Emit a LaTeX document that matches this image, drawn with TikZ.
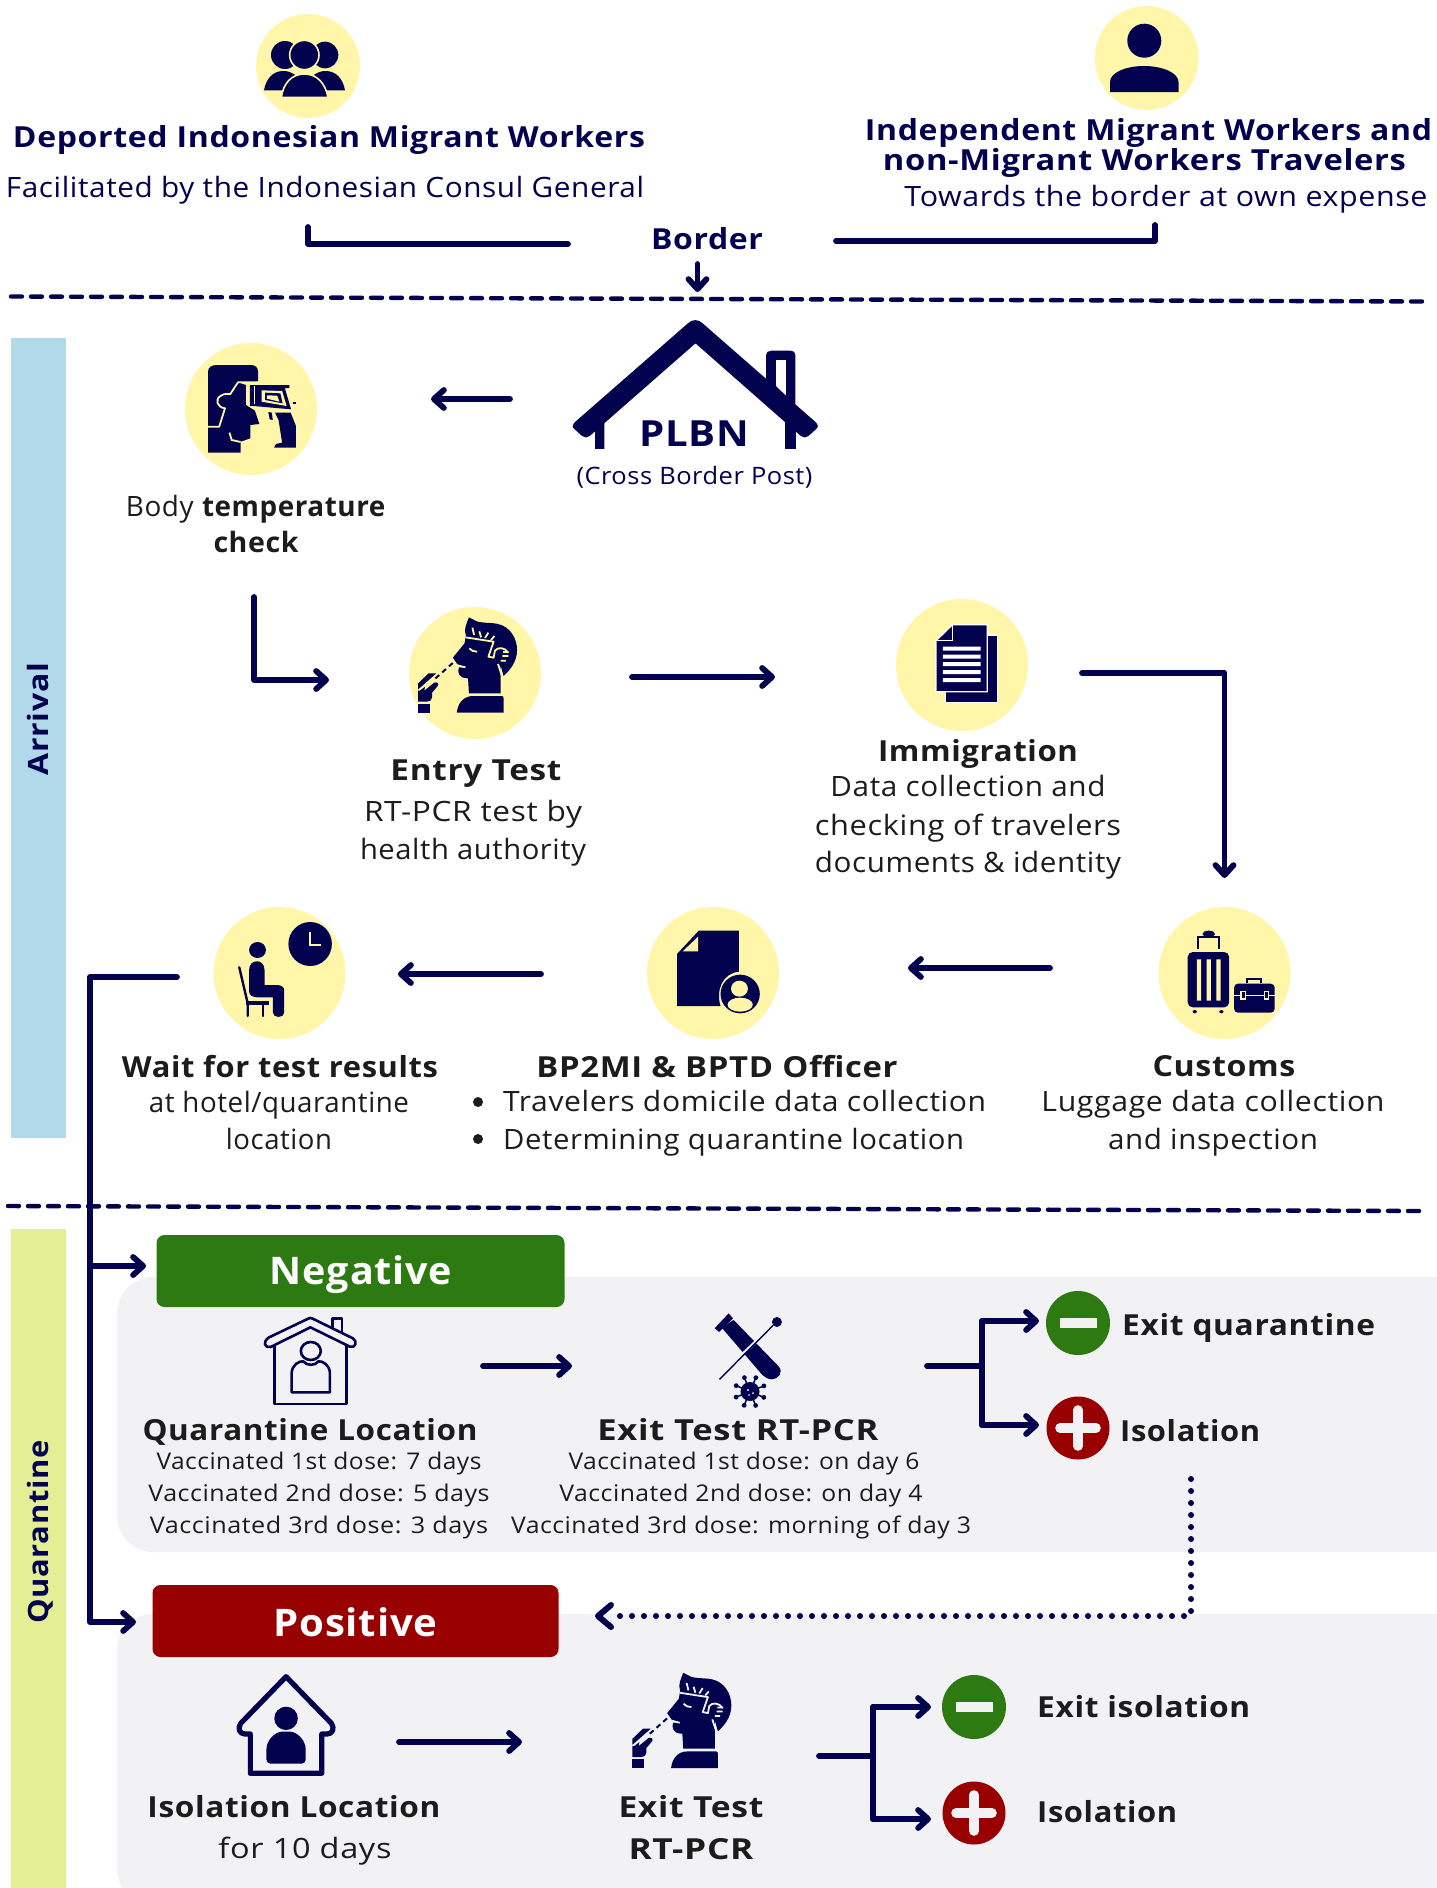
\documentclass[tikz,border=0pt]{standalone}
\usepackage{fontspec}
\setmainfont[LetterSpace=2]{Open Sans}
\usetikzlibrary{arrows.meta}
\definecolor{navy}{HTML}{02024F}
\definecolor{yel}{HTML}{FFF6AA}
\definecolor{barblue}{HTML}{B2D9EA}
\definecolor{bargreen}{HTML}{E4EE94}
\definecolor{panel}{HTML}{F2F2F5}
\definecolor{negc}{HTML}{2E7A12}
\definecolor{posc}{HTML}{990000}
\definecolor{ink}{HTML}{1C1C1C}
\newcommand\ft[2]{\resizebox{#1pt}{\height}{#2}}
\newcommand\fz[1]{\fontsize{#1}{#1}\selectfont}
\tikzset{
  ycirc/.style={circle,fill=yel,minimum size=132pt,inner sep=0},
  ysmall/.style={circle,fill=yel,minimum size=104pt,inner sep=0},
  T/.style={inner sep=0,text height=20pt,text depth=0pt,font=\fz{28},text=ink},
  TB/.style={inner sep=0,text height=21pt,text depth=0pt,font=\fz{29}\bfseries,text=ink},
  TS/.style={inner sep=0,text height=17pt,text depth=0pt,font=\fz{23},text=ink},
  flow/.style={draw=navy,line width=5.8pt,line cap=round,line join=round,-{Straight Barb[round,length=10pt,width=18pt,line width=5.8pt]}},
  plain/.style={draw=navy,line width=5.8pt,line cap=round,line join=round},
  divider/.style={draw=navy,line width=4.4pt,line cap=round,dash pattern=on 11pt off 9pt},
  badge/.style={circle,minimum size=64pt,inner sep=0},
  barp/.style={panel,line width=9.6pt,line cap=round},
  barm/.style={panel,line width=9.6pt},
}
\newcommand\manicon[1]{%
  \fill[navy] (205,82) -- (225,95) .. controls (245,100) and (262,98) .. (272,102) .. controls (300,110) and (316,145) .. (316,180) .. controls (316,215) and (300,240) .. (285,258) -- (278,225) -- (278,310) -- (205,310) -- (203,265) .. controls (180,265) and (178,245) .. (182,232) -- (197,232) -- (178,222) -- (168,203) -- (195,160) -- (198,135) .. controls (192,120) and (200,100) .. (205,82) -- cycle;
  \draw[#1,line width=1.8pt,line join=round] (197,142) -- (262,155) -- (250,200) -- (262,203) -- (265,182) .. controls (272,170) and (288,172) .. (296,188);
  \draw[#1,line width=1.8pt] (213,113) -- (217,135) (229,124) -- (233,142) (250,128) -- (242,144) (264,138) -- (256,150) (284,186) -- (296,186) (282,198) -- (296,198) (278,212) -- (290,212) (272,222) -- (283,265) (206,175) .. controls (210,182) and (216,185) .. (224,185) (181,227) -- (197,232);
  \fill[navy] (177,368) .. controls (180,335) and (195,318) .. (215,318) -- (280,318) .. controls (284,318) and (285,320) .. (285,325) -- (285,368) -- cycle;
  \fill[navy] (88,280) -- (112,250) -- (130,250) -- (88,298) -- cycle;
  \fill[navy] (88,302) -- (92,302) -- (104,290) -- (102,302) -- (125,278) .. controls (132,274) and (137,282) .. (133,288) -- (120,308) -- (120,322) .. controls (120,330) and (115,335) .. (108,335) -- (88,335) -- cycle;
  \fill[navy] (88,342) rectangle (115,368);
  \draw[navy,line width=2pt,dash pattern=on 5pt off 4pt] (128,265) -- (172,214);
}
\begin{document}
\begin{tikzpicture}[x=1pt,y=-1pt]
\clip (0,0) rectangle (1437,1888);
\useasboundingbox (0,0) rectangle (1437,1888);
% panels and sidebars
\fill[white] (0,0) rectangle (1437,1888);
\fill[panel,rounded corners=36pt] (1437,1277) -- (117,1277) -- (117,1552) -- (1437,1552) [sharp corners] -- cycle;
\fill[panel] (1400,1277) rectangle (1437,1552);
\fill[panel,rounded corners=36pt] (1437,1614) -- (117,1614) -- (117,1905) -- (1437,1905) -- cycle;
\fill[panel] (1400,1614) rectangle (1437,1888);
\node[fill=barblue,minimum width=55pt,minimum height=800pt,inner sep=0] (arrivalbar) at (38.5,738) {};
\node[fill=bargreen,minimum width=55pt,minimum height=659pt,inner sep=0] (quarbar) at (38.5,1558.5) {};
\node[T,rotate=90,font=\fz{28}\bfseries,text=navy] (arrival) at (38,719) {\ft{112}{Arrival}};
\node[T,rotate=90,font=\fz{28}\bfseries,text=navy] (quarantine) at (38,1532) {\ft{183}{Quarantine}};

% yellow circles
\node[ysmall] (deported) at (308,66) {};
\node[ysmall] (independent) at (1146.7,58) {};
\node[ycirc] (body) at (251,409) {};
\node[ycirc] (entry) at (475,673) {};
\node[ycirc] (immig) at (962,665) {};
\node[ycirc] (customs) at (1224.5,973) {};
\node[ycirc] (officer) at (713,973) {};
\node[ycirc] (wait) at (279.5,973) {};

% group icon
\begin{scope}[shift={(240,0)},xscale=.3333,yscale=.3333]
  \fill[navy] (135,165) circle (42pt) (255,165) circle (40pt);
  \fill[navy] (72,271) .. controls (78,235) and (100,213) .. (130,213) .. controls (145,213) and (155,218) .. (165,224) -- (128,271) -- cycle;
  \fill[navy] (315,271) .. controls (309,235) and (287,213) .. (257,213) .. controls (242,213) and (232,218) .. (222,224) -- (259,271) -- cycle;
  \filldraw[navy,draw=yel,line width=1.6pt] (193,165) circle (44pt);
  \filldraw[navy,draw=yel,line width=1.6pt] (124,292) .. controls (130,250) and (155,222) .. (193,222) .. controls (231,222) and (256,250) .. (264,292) -- cycle;
\end{scope}
% single person icon
\fill[navy] (1144.3,40.7) circle (17pt);
\fill[navy] (1110,92) -- (1110,82) .. controls (1110,73) and (1125,66) .. (1144,66) .. controls (1163,66) and (1178.5,73) .. (1178.5,82) -- (1178.5,92) -- cycle;

% body temperature icon
\begin{scope}[shift={(150,320)},xscale=.4464,yscale=.3333]
  \fill[navy] (130,155) .. controls (130,142) and (138,135) .. (150,135) -- (225,135) .. controls (236,135) and (242,142) .. (242,155) -- (242,185) -- (197,187) -- (215,195) -- (215,255) -- (235,272) -- (245,312) -- (225,315) -- (225,355) -- (203,365) -- (203,398) -- (130,398) -- cycle;
  \draw[yel,line width=1.8pt,line join=round] (130,320) -- (155,320) -- (168,265) .. controls (150,262) and (145,238) .. (158,228) .. controls (165,220) and (175,222) .. (180,222) -- (197,187) -- (242,187);
  \draw[yel,line width=1.8pt] (178,338) -- (183,360) -- (203,366);
  \fill[navy] (224,195) -- (312,195) -- (312,204) -- (302,204) -- (316,268) -- (232,258) -- (224,258) -- cycle;
  \draw[yel,line width=1.8pt] (234,198) -- (234,252);
  \fill[yel] (250,211) -- (296,213) -- (306,258) -- (250,245) -- cycle;
  \fill[navy] (258,218) -- (292,220) -- (297,250) -- (258,240) -- cycle;
  \fill[yel] (262,226) -- (285,227) -- (290,245) -- (262,236) -- cycle;
  \fill[navy] (320,245) rectangle (326,251);
  \fill[navy] (265,276) -- (273,278) -- (275,300) -- (268,298) -- cycle;
  \fill[navy] (280,278) -- (315,278) -- (327,318) -- (327,383) -- (278,383) -- (282,372) -- (296,368) -- (288,300) -- cycle;
\end{scope}

% man with swab, entry test
\begin{scope}[shift={(380,590)},xscale=.4337,yscale=.3333]
  \manicon{yel}
\end{scope}
% document icon
\begin{scope}[shift={(380,590)},xscale=.4337,yscale=.3333]
  \filldraw[navy,draw=white,line width=1.3pt] (1304,135) rectangle (1423,337);
  \filldraw[navy,draw=white,line width=1.3pt] (1320,104) -- (1400,104) -- (1400,305) -- (1282,305) -- (1282,152) -- cycle;
  \draw[white,line width=1.3pt] (1282,152) -- (1320,152) -- (1320,104);
  \fill[white] (1298,170) rectangle (1385,182) (1298,194) rectangle (1385,206) (1298,216) rectangle (1385,228) (1298,240) rectangle (1385,252) (1298,264) rectangle (1385,276);
\end{scope}

% lower row icons
\begin{scope}[shift={(200,890)},xscale=.7015,yscale=.3333]
  % wait
  \fill[navy] (157,162) ellipse [x radius=31pt,y radius=66pt];
  \draw[yel,line width=2pt] (157,125) -- (157,165) -- (172,165);
  \fill[navy] (82,180) ellipse [x radius=12pt,y radius=24pt];
  \fill[navy] (70,240) .. controls (70,205) and (92,205) .. (92,240) -- (92,285) -- (110,285) .. controls (116,285) and (120,292) .. (120,300) -- (120,368) .. controls (120,385) and (104,385) .. (104,368) -- (104,322) -- (82,322) .. controls (75,322) and (70,315) .. (70,305) -- cycle;
  \draw[navy,line width=2.4pt,line cap=round] (56,232) -- (68,340) -- (68,378);
  \draw[navy,line width=2.4pt,line cap=round] (90,342) -- (90,378);
  \fill[navy] (66,333) rectangle (98,345);
  % officer
  \fill[navy] (680,192) -- (711,122) -- (768,122) -- (768,245) .. controls (745,250) and (735,300) .. (742,348) -- (680,348) -- cycle;
  \fill[yel] (688,184) -- (710,140) -- (710,184) -- cycle;
  \fill[navy] (770,312) ellipse [x radius=28pt,y radius=58pt];
  \fill[yel] (769,296) ellipse [x radius=12pt,y radius=24pt];
  \fill[yel] (770,344) ellipse [x radius=18pt,y radius=21pt];
  % suitcase
  \fill[navy,rounded corners=5pt] (1408,186) rectangle (1467,352);
  \fill[yel] (1421,208) rectangle (1427,332) (1435,208) rectangle (1441,332) (1449,208) rectangle (1455,332);
  \fill[navy] (1438,132) ellipse [x radius=9pt,y radius=10pt];
  \draw[navy,line width=2pt] (1423,178) -- (1423,140) -- (1453,140) -- (1453,178);
  \fill[navy] (1418,365) ellipse [x radius=3pt,y radius=5pt] (1456,365) ellipse [x radius=3pt,y radius=5pt];
  \fill[navy,rounded corners=4pt] (1474,281) rectangle (1532,368);
  \draw[navy,line width=2pt] (1492,280) -- (1492,268) -- (1512,268) -- (1512,280);
  \draw[yel,line width=1.4pt] (1474,316) -- (1532,316);
  \filldraw[navy,draw=yel,line width=1.2pt] (1484,304) rectangle (1490,327) (1517,304) rectangle (1523,327);
\end{scope}

% PLBN house
\begin{scope}[shift={(150,320)},xscale=.4464,yscale=.3333]
  \fill[navy] (1380,210) -- (1380,105) .. controls (1380,97) and (1385,92) .. (1392,92) -- (1433,92) .. controls (1441,92) and (1446,97) .. (1446,105) -- (1446,260) -- cycle;
  \fill[white] (1402,120) rectangle (1425,228);
  \fill[navy] (1402,198) -- (1425,228) -- (1402,228) -- cycle;
  \fill[navy] (1205,10) .. controls (1215,-3) and (1228,-3) .. (1238,10) -- (1490,305) .. controls (1498,315) and (1498,322) .. (1490,330) -- (1475,348) .. controls (1470,354) and (1463,354) .. (1458,348) -- (1222,70) -- (985,348) .. controls (980,354) and (973,354) .. (968,348) -- (953,330) .. controls (945,322) and (945,315) .. (953,305) -- cycle;
  \fill[navy] (997,325) -- (1018,300) -- (1018,387) -- (997,387) -- cycle;
  \fill[navy] (1423,300) -- (1447,325) -- (1447,387) -- (1423,387) -- cycle;
\end{scope}

% quarantine house and tube
\begin{scope}[shift={(240,1270)},xscale=.3827,yscale=.3333]
  \draw[navy,line width=2.6pt,line join=round] (90,228) -- (90,402) -- (278,402) -- (278,228);
  \filldraw[panel,draw=navy,line width=2.6pt,line join=round] (242,175) -- (242,145) -- (267,145) -- (267,190);
  \filldraw[panel,draw=navy,line width=2.6pt,line join=round] (76,202) -- (178,146) .. controls (182,143) and (186,143) .. (190,146) -- (295,205) .. controls (308,215) and (302,235) .. (287,230) -- (184,172) -- (80,231) .. controls (64,235) and (58,215) .. (76,202) -- cycle;
  \draw[navy,line width=2.6pt] (185,243) ellipse [x radius=26pt,y radius=27pt];
  \draw[navy,line width=2.6pt,line join=round] (135,367) -- (135,310) .. controls (135,285) and (155,272) .. (165,274) .. controls (175,288) and (195,288) .. (205,274) .. controls (215,272) and (235,285) .. (235,310) -- (235,367) -- cycle;
  % tube
  \fill[navy] (1240,175) -- (1277,130) -- (1288,145) -- (1252,186) -- cycle;
  \fill[navy] (1258,172) -- (1290,150) -- (1408,290) .. controls (1420,305) and (1408,328) .. (1390,328) .. controls (1380,328) and (1372,322) .. (1365,315) -- cycle;
  \draw[panel,line width=3.2pt] (1270,300) -- (1380,180);
  \draw[navy,line width=1.4pt] (1253,328) -- (1393,166);
  \fill[navy] (1403,156) ellipse [x radius=13pt,y radius=15pt];
\end{scope}
% virus
\fill[navy] (750,1391.5) circle (9.5pt);
\foreach \a in {0,45,...,315}{
  \draw[navy,line width=1.5pt] (750,1391.5) -- ++(\a+22:15pt);
  \fill[navy] (750,1391.5) ++(\a+22:15pt) circle (2.4pt);
}
\fill[panel] (748,1390) circle (1.1pt) (753,1393) circle (1pt) (749,1395) circle (.9pt);

% isolation house
\begin{scope}[shift={(220,1660)},xscale=.3571,yscale=.3333]
  \draw[navy,line width=5.2pt,line join=round] (185,50) -- (312,190) .. controls (322,205) and (315,222) .. (300,222) -- (285,222) -- (285,340) -- (85,340) -- (85,222) -- (70,222) .. controls (55,222) and (48,205) .. (58,190) -- cycle;
  \fill[navy] (185,175) ellipse [x radius=33pt,y radius=35pt];
  \fill[navy,rounded corners=4pt] (130,311) -- (130,280) .. controls (130,240) and (155,215) .. (185,215) .. controls (215,215) and (240,240) .. (240,280) -- (240,311) -- cycle;
\end{scope}
\begin{scope}[shift={(594.3,1645.4)},xscale=.4337,yscale=.3333]
  \manicon{panel}
\end{scope}

% negative / positive headers
\node[fill=negc,rounded corners=8pt,minimum width=408pt,minimum height=72pt,inner sep=0] (negbox) at (360.5,1271) {};
\node[T,font=\fz{38}\bfseries,text=white,text height=27pt] (negtxt) at (361,1271) {\ft{182}{Negative}};
\node[fill=posc,rounded corners=8pt,minimum width=406pt,minimum height=72pt,inner sep=0] (posbox) at (355.5,1621) {};
\node[T,font=\fz{38}\bfseries,text=white,text height=27pt] (postxt) at (355.5,1623) {\ft{164}{Positive}};

% result badges
\node[badge,fill=negc] (bminus1) at (1078,1323) {};
\draw[barm] (bminus1.center) ++(-18.5,0) -- ++(37,0);
\node[badge,fill=posc,minimum size=63pt] (bplus1) at (1078,1428) {};
\draw[barp] (bplus1.center) ++(-18,0) -- ++(36,0) (bplus1.center) ++(0,-18) -- ++(0,36);
\node[badge,fill=negc] (bminus2) at (974,1707) {};
\draw[barm] (bminus2.center) ++(-18.5,0) -- ++(37,0);
\node[badge,fill=posc,minimum size=63pt] (bplus2) at (974,1813) {};
\draw[barp] (bplus2.center) ++(-18,0) -- ++(36,0) (bplus2.center) ++(0,-18) -- ++(0,36);

% texts top
\node[TB,text=navy] (t1) at (329,136.5) {\ft{632}{Deported Indonesian Migrant Workers}};
\node[T,text=navy] (t2) at (325,187) {\ft{638}{Facilitated by the Indonesian Consul General}};
\node[TB,text=navy] (t3) at (1148.5,130) {\ft{567}{Independent Migrant Workers and}};
\node[TB,text=navy] (t4) at (1144.5,160) {\ft{523}{non-Migrant Workers Travelers}};
\node[T,text=navy] (t5) at (1166,196) {\ft{523}{Towards the border at own expense}};
\node[TB,text=navy] (border) at (707,239) {\ft{112}{Border}};
\node[TB,text=navy,font=\fz{36}\bfseries,text height=26pt] (plbn) at (694,433) {\ft{110}{PLBN}};
\node[T,text=navy,font=\fz{24},text height=17pt] (cbp) at (694.5,476) {\ft{236}{(Cross Border Post)}};
% texts arrival
\node[T] (t6) at (256,506) {\ft{260}{Body \textbf{temperature}}};
\node[TB,font=\fz{28}\bfseries] (t7) at (256,542) {\ft{85}{check}};
\node[TB] (t8) at (476,770) {\ft{171}{Entry Test}};
\node[T] (t9) at (473,811) {\ft{218}{RT-PCR test by}};
\node[T] (t10) at (473,849) {\ft{226}{health authority}};
\node[TB] (t11) at (978,751) {\ft{200}{Immigration}};
\node[T] (t12) at (968,786) {\ft{275}{Data collection and}};
\node[T] (t13) at (968,825) {\ft{306}{checking of travelers}};
\node[T] (t14) at (968,862) {\ft{306}{documents \& identity}};
\node[TB] (t15) at (280,1067) {\ft{316}{Wait for test results}};
\node[T] (t16) at (279,1102) {\ft{260}{at hotel/quarantine}};
\node[T] (t17) at (279,1139) {\ft{106}{location}};
\node[TB] (t18) at (717,1067) {\ft{361}{BP2MI \& BPTD Officer}};
\fill[ink] (478,1102) circle (5pt) (478,1139) circle (5pt);
\node[T,anchor=west] (t19) at (503,1101) {\ft{483}{Travelers domicile data collection}};
\node[T,anchor=west] (t20) at (503,1139) {\ft{461}{Determining quarantine location}};
\node[TB] (t21) at (1224,1066) {\ft{143}{Customs}};
\node[T] (t22) at (1213,1101) {\ft{343}{Luggage data collection}};
\node[T] (t23) at (1213,1139) {\ft{210}{and inspection}};
% texts quarantine
\node[TB] (t24) at (310,1430) {\ft{335}{Quarantine Location}};
\node[TS] (t25) at (319,1461) {\ft{325}{Vaccinated 1st dose: 7 days}};
\node[TS] (t26) at (319,1493) {\ft{341}{Vaccinated 2nd dose: 5 days}};
\node[TS] (t27) at (319,1525) {\ft{338}{Vaccinated 3rd dose: 3 days}};
\node[TB] (t28) at (738,1430) {\ft{281}{Exit Test RT-PCR}};
\node[TS] (t29) at (744,1461) {\ft{351}{Vaccinated 1st dose: on day 6}};
\node[TS] (t30) at (741,1493) {\ft{363}{Vaccinated 2nd dose: on day 4}};
\node[TS] (t31) at (741,1525) {\ft{460}{Vaccinated 3rd dose: morning of day 3}};
\node[TB,anchor=west] (t32) at (1122,1325) {\ft{253}{Exit quarantine}};
\node[TB,anchor=west] (t33) at (1120,1431) {\ft{140}{Isolation}};
\node[TB,anchor=west] (t34) at (1037,1707) {\ft{213}{Exit isolation}};
\node[TB,anchor=west] (t35) at (1037,1812) {\ft{140}{Isolation}};
\node[TB] (t36) at (294,1807) {\ft{293}{Isolation Location}};
\node[T] (t37) at (305,1848) {\ft{173}{for 10 days}};
\node[TB] (t38) at (691,1807) {\ft{145}{Exit Test}};
\node[TB] (t39) at (691,1849) {\ft{125}{RT-PCR}};

% dividers
\coordinate (d1a) at (11,296.5); \coordinate (d1b) at (1425,301.5);
\coordinate (d2a) at (8,1206); \coordinate (d2b) at (1421,1211);
\draw[divider] (d1a) -- (d1b);
\draw[divider] (d2a) -- (d2b);

% connector ends
\coordinate (la) at (308,227); \coordinate (lb) at (308,244); \coordinate (lc) at (568,244);
\coordinate (ra) at (1155,225); \coordinate (rb) at (1155,241); \coordinate (rc) at (836,241);
\coordinate (ba) at (697.5,264); \coordinate (bb) at (697.5,292);
\coordinate (pa) at (510,399); \coordinate (pb) at (431,399);
\coordinate (ea) at (254,597); \coordinate (eb) at (254,680); \coordinate (ec) at (329,680);
\coordinate (ia) at (632,677); \coordinate (ib) at (775,677);
\coordinate (ca) at (1082,673); \coordinate (cb) at (1224.5,673); \coordinate (cc) at (1224.5,878);
\coordinate (oa) at (1050,968); \coordinate (ob) at (908,968);
\coordinate (wa) at (541,974); \coordinate (wb) at (398,974);
\coordinate (xa) at (177,977); \coordinate (xb) at (90,977); \coordinate (xc) at (90,1622); \coordinate (xd) at (90,1266);
\coordinate (na) at (146,1266); \coordinate (nb) at (136,1622);
\coordinate (qa) at (483,1366); \coordinate (qb) at (572,1366);
\coordinate (ra1) at (927,1366); \coordinate (ra2) at (982,1366); \coordinate (ra3) at (982,1321); \coordinate (ra4) at (1039,1321); \coordinate (ra5) at (982,1425); \coordinate (ra6) at (1039,1425);
\coordinate (da) at (1191,1479); \coordinate (db) at (1191,1616); \coordinate (dc) at (611,1616);
\coordinate (dt) at (598,1616);
\coordinate (ha) at (399,1742); \coordinate (hb) at (522,1742);
\coordinate (rb1) at (819,1756); \coordinate (rb2) at (873,1756); \coordinate (rb3) at (873,1707); \coordinate (rb4) at (931,1707); \coordinate (rb5) at (873,1819); \coordinate (rb6) at (931,1819);

% connectors
\draw[plain] (la) -- (lb) -- (lc);
\draw[plain] (ra) -- (rb) -- (rc);
\draw[flow] (ba) -- (bb);
\draw[flow] (pa) -- (pb);
\draw[flow] (ea) -- (eb) -- (ec);
\draw[flow] (ia) -- (ib);
\draw[flow] (ca) -- (cb) -- (cc);
\draw[flow] (oa) -- (ob);
\draw[flow] (wa) -- (wb);
\draw[flow] (xa) -- (xb) -- (xc) -- (nb);
\draw[flow] (xd) -- (na);
\draw[flow] (qa) -- (qb);
\draw[plain] (ra1) -- (ra2);
\draw[flow] (ra5) -- (ra3) -- (ra4);
\draw[flow] (ra3) -- (ra5) -- (ra6);
\draw[flow] (ha) -- (hb);
\draw[plain] (rb1) -- (rb2);
\draw[flow] (rb5) -- (rb3) -- (rb4);
\draw[flow] (rb3) -- (rb5) -- (rb6);
\draw[navy,line width=6pt,line cap=round,dash pattern=on 0pt off 12pt] (da) -- (db) -- (dc);
\draw[navy,line width=6pt,line cap=round,line join=round] (611,1605) -- (dt) -- (611,1627);
\end{tikzpicture}
\end{document}
